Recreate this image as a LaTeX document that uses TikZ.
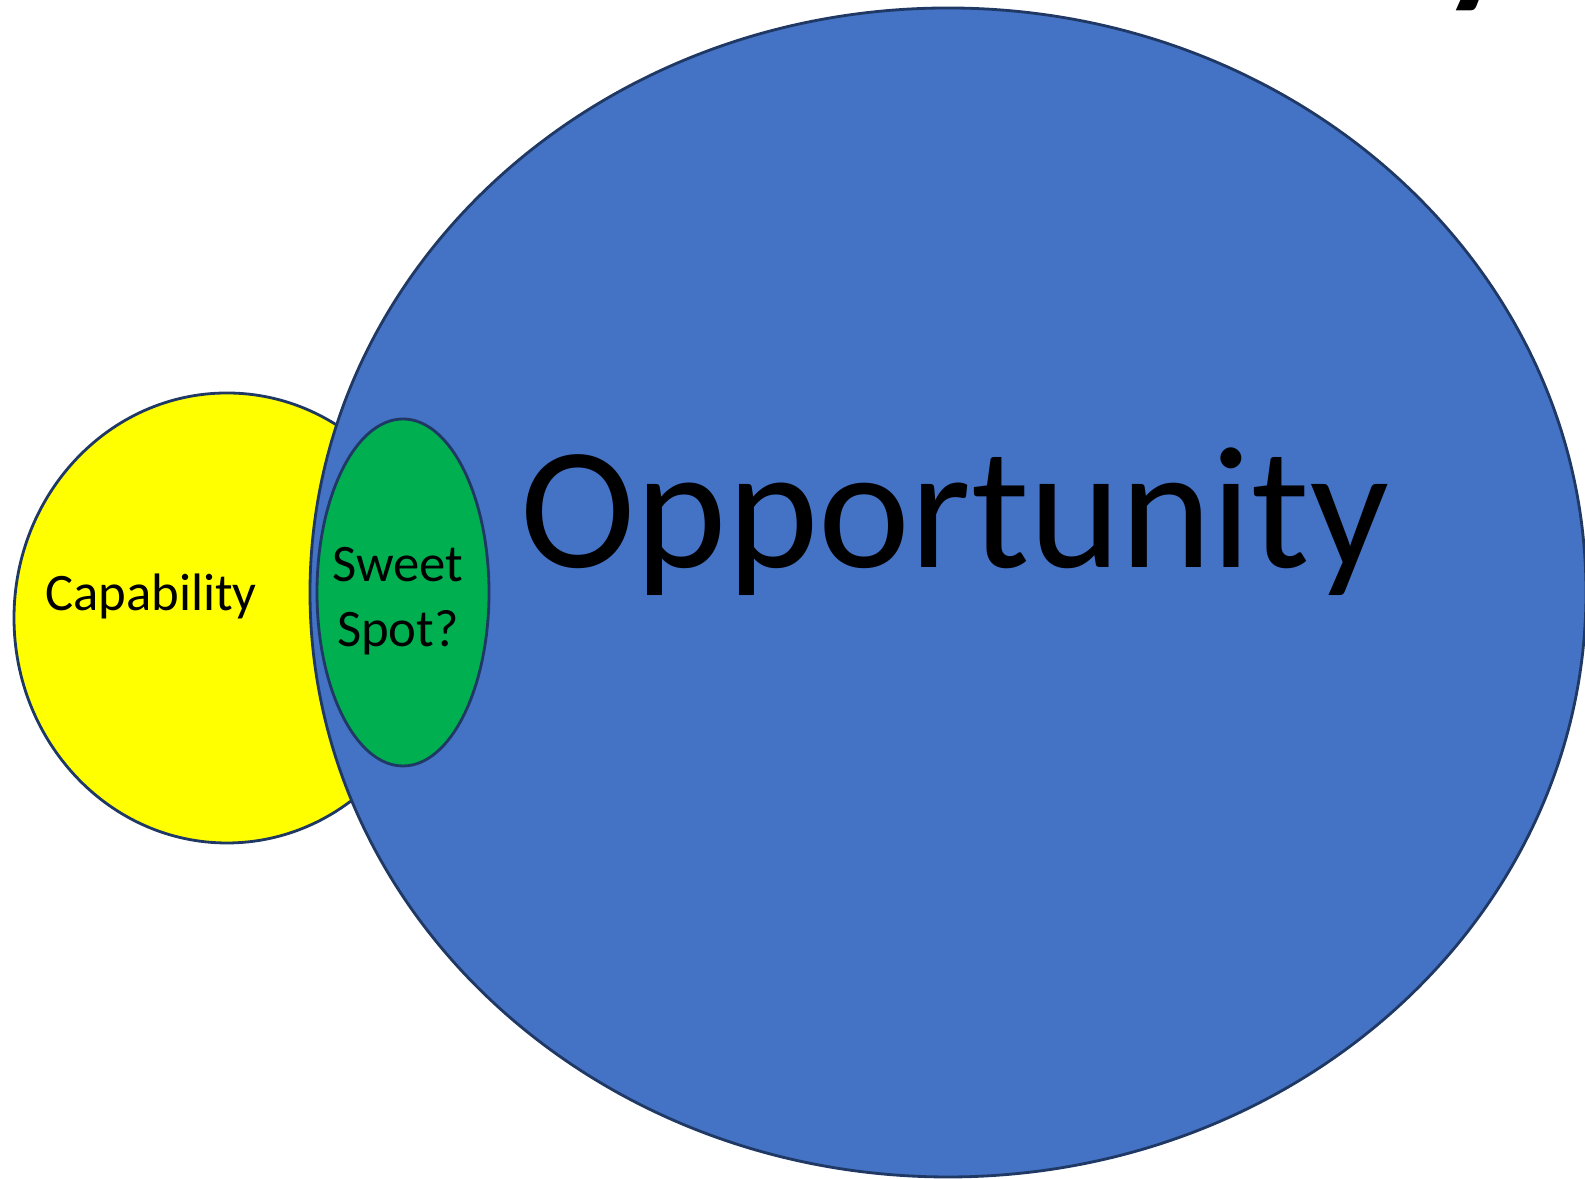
\documentclass[tikz,border=0pt]{standalone}
\usepackage{fontspec}
\setmainfont{Carlito}
\usepackage{tikz}
\usetikzlibrary{shapes.geometric}
\definecolor{opblue}{HTML}{4472C4}
\definecolor{capyellow}{HTML}{FFFF00}
\definecolor{spotgreen}{HTML}{00B050}
\definecolor{edgenavy}{HTML}{1F3864}
\tikzstyle{insieme} = [ellipse, draw=edgenavy, line width=0.8pt, inner sep=0pt, outer sep=0pt]
\tikzstyle{etichetta} = [inner sep=0pt, text=black, font=\fontsize{15}{18.5}\selectfont]

\begin{document}
\begin{tikzpicture}
						\useasboundingbox (0,0) rectangle (15.85,11.79);
						\clip (0,0) rectangle (15.85,11.79);
						\node (cap) at (2.27,5.61) [insieme, fill=capyellow, minimum width=4.26cm, minimum height=4.50cm] {};
						\node (opp) at (9.48,5.865) [insieme, fill=opblue, minimum width=12.76cm, minimum height=11.69cm] {};
						\node (spot) at (4.03,5.865) [insieme, fill=spotgreen, minimum width=1.72cm, minimum height=3.47cm] {};
						\node (captxt) at (1.51,5.68) [etichetta, anchor=base] {Capability};
						\node (spottxt) at (3.98,5.78) [etichetta, align=center] {Sweet\\Spot?};
						\node (opptxt) at (9.55,6.11) [etichetta, anchor=base, font=\fontsize{49.5}{59}\selectfont] {Opportunity};
						\node (titolo) at (14.78,11.92) [etichetta, anchor=base, font=\fontsize{44}{52}\selectfont\bfseries] {y};
					\end{tikzpicture}
\end{document}
